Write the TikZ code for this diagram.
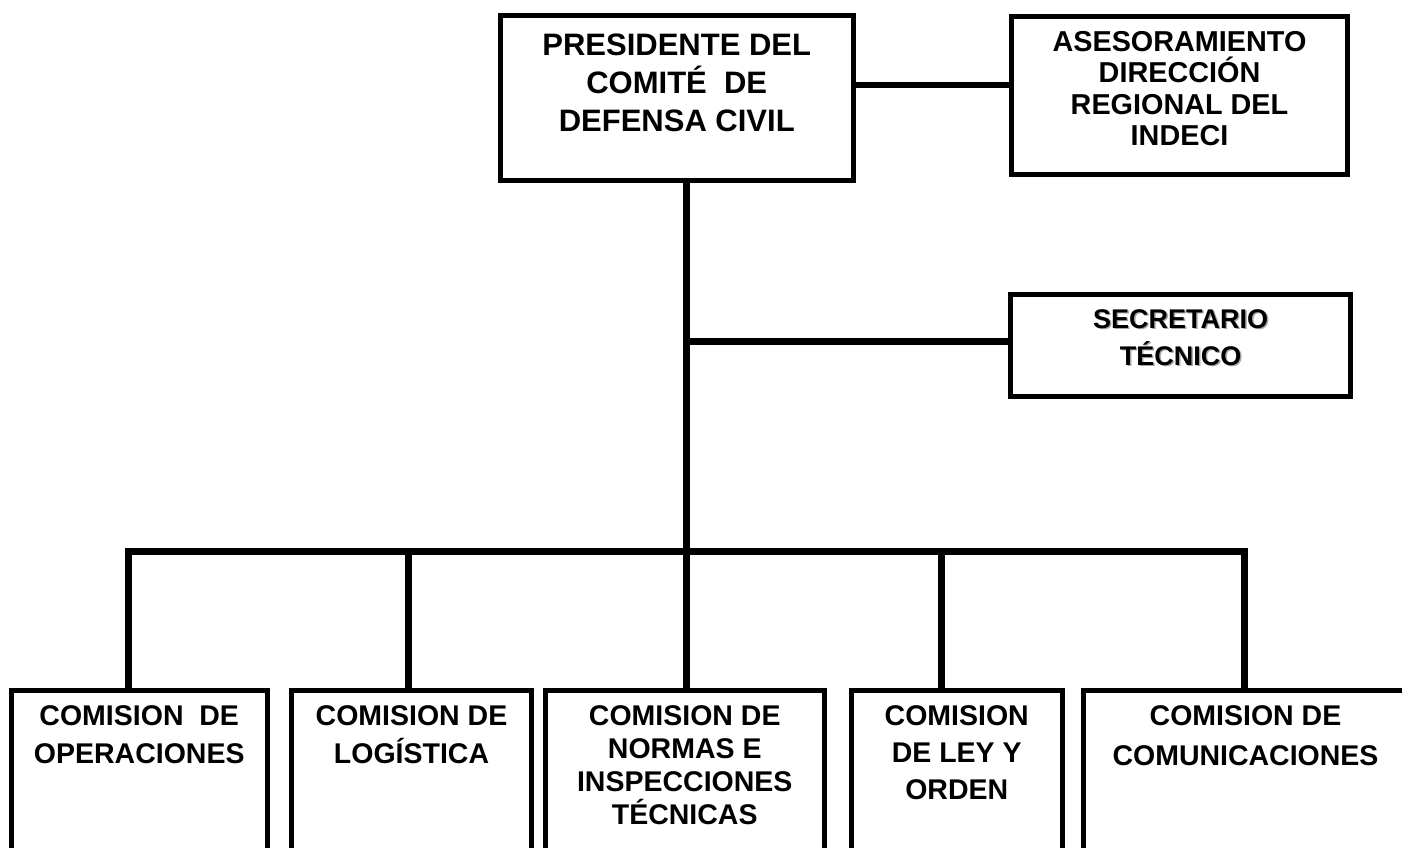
\documentclass[tikz,border=0pt]{standalone}
\usepackage{fontspec}
\setmainfont{Liberation Sans}
\usepackage{xcolor}
\newcommand{\boxlines}[4]{\parbox[c][#2pt][t]{#1pt}{\centering\rule{0pt}{#3pt}#4}}
\newcommand{\shadowed}[1]{\leavevmode\rlap{\hspace{1.5pt}\raisebox{-1.5pt}{\textcolor{gray!70}{#1}}}#1}
\tikzset{
  orgbox/.style={draw, line width=5pt, inner sep=0pt, outer sep=0pt, anchor=north west},
  link/.style={line width=6.5pt}
}
\begin{document}
\begin{tikzpicture}[x=1pt,y=-1pt]
      \useasboundingbox (0,0) rectangle (1402,848);
      \clip (0,0) rectangle (1402,848);
      \node[orgbox, font=\bfseries\fontsize{31}{38}\selectfont] (pres) at (500,15.5)
        {\boxlines{353.5}{165}{40.5}{PRESIDENTE DEL\\COMITÉ\ \ DE\\DEFENSA CIVIL}};
      \node[orgbox, font=\bfseries\fontsize{28.8}{31.5}\selectfont] (ase) at (1011.5,16.5)
        {\boxlines{336}{158}{35}{ASESORAMIENTO\\DIRECCIÓN\\REGIONAL DEL\\INDECI}};
      \node[orgbox, font=\bfseries\fontsize{27}{37}\selectfont] (sec) at (1010.5,294.5)
        {\boxlines{340}{102}{33.5}{\shadowed{SECRETARIO}\\\shadowed{TÉCNICO}}};
      \node[orgbox, font=\bfseries\fontsize{28.5}{38}\selectfont] (ope) at (11.5,690.5)
        {\boxlines{255.5}{200}{34.5}{COMISION\ \ DE\\OPERACIONES}};
      \node[orgbox, font=\bfseries\fontsize{28.5}{38}\selectfont] (log) at (291.5,690.5)
        {\boxlines{240}{200}{34.5}{COMISION DE\\LOGÍSTICA}};
      \node[orgbox, font=\bfseries\fontsize{28.5}{33}\selectfont] (nor) at (545.5,690.5)
        {\boxlines{278.5}{200}{34.5}{COMISION DE\\NORMAS E\\INSPECCIONES\\TÉCNICAS}};
      \node[orgbox, font=\bfseries\fontsize{28.5}{37}\selectfont] (ley) at (851,690.5)
        {\boxlines{211.5}{200}{34.5}{COMISION\\DE LEY Y\\ORDEN}};
      \node[orgbox, font=\bfseries\fontsize{28.5}{40}\selectfont] (com) at (1083,690.5)
        {\boxlines{325}{200}{34.5}{COMISION DE\\COMUNICACIONES}};
      \coordinate (aselink) at (1011.5,85);
      \coordinate (seclink) at (686.5,341.5);
      \coordinate (hub) at (686.5,551.5);
      \coordinate (d1) at (128.3,551.5);
      \coordinate (d2) at (408.3,551.5);
      \coordinate (d4) at (941.5,551.5);
      \coordinate (d5) at (1244.5,551.5);
      \draw[link] (pres.east |- aselink) -- (ase.west |- aselink);
      \draw[link] (hub |- pres.south) -- (hub |- nor.north);
      \draw[link] (seclink) -- (seclink -| sec.west);
      \draw[link] (d1 |- ope.north) -- (d1) -- (d5) -- (d5 |- com.north);
      \draw[link] (d2) -- (d2 |- log.north);
      \draw[link] (d4) -- (d4 |- ley.north);
\end{tikzpicture}
\end{document}
